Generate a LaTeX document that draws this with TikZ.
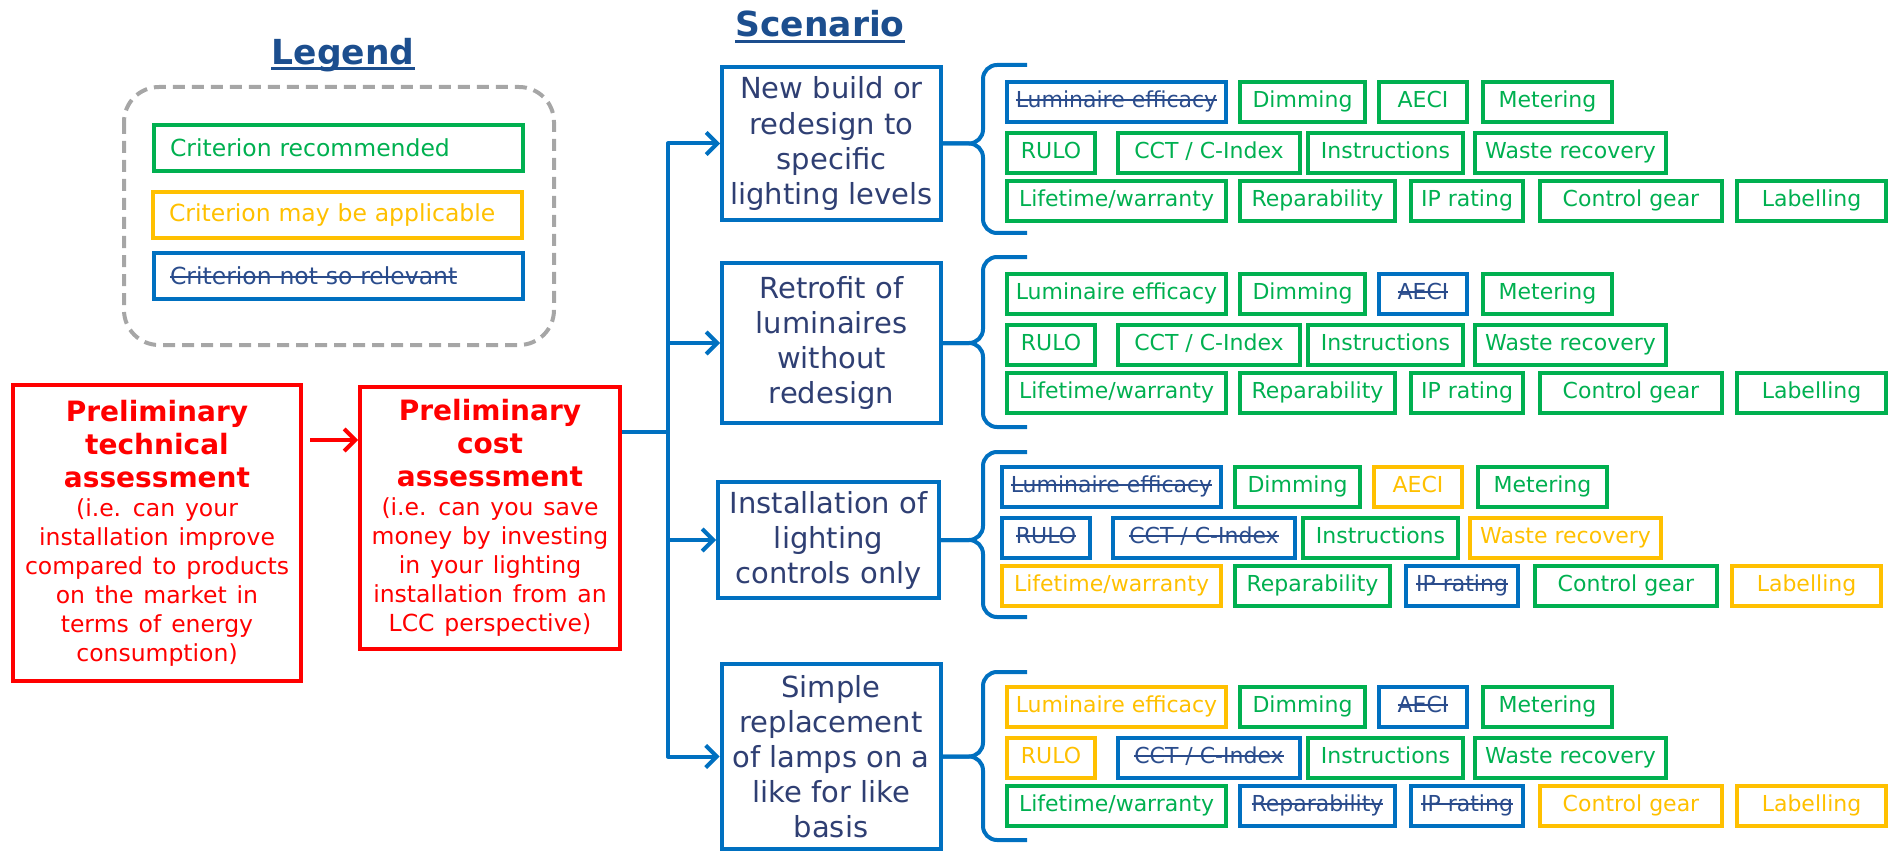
\documentclass[tikz,border=0pt]{standalone}
\usepackage{fontspec}
\setmainfont{DejaVu Sans}
\usetikzlibrary{arrows.meta,calc,positioning}

\definecolor{cgreen}{HTML}{00B050}
\definecolor{cyellow}{HTML}{FFC000}
\definecolor{cblue}{HTML}{0070C0}
\definecolor{cred}{HTML}{FF0000}
\definecolor{ctitle}{HTML}{1C4E8E}
\definecolor{cscen}{HTML}{2F3F73}
\definecolor{cstrike}{HTML}{2A4C8C}
\definecolor{cframe}{HTML}{A6A6A6}
\colorlet{colg}{cgreen}\colorlet{coly}{cyellow}\colorlet{colb}{cblue}
\colorlet{txtg}{cgreen}\colorlet{txty}{cyellow}\colorlet{txtb}{cstrike}

\newsavebox{\strikebox}
\newcommand{\markg}[1]{#1}
\newcommand{\marky}[1]{#1}
\newcommand{\markb}[1]{\sbox{\strikebox}{#1}\rlap{\rule[0.28em]{\wd\strikebox}{2pt}}\usebox{\strikebox}}

\begin{document}
\begin{tikzpicture}[x=1pt,y=-1pt,
  >={Straight Barb[length=11pt,width=22pt]},
  title/.style={anchor=base,inner sep=0pt,text=ctitle,font=\fontsize{34.5}{40}\selectfont\bfseries},
  titleline/.style={ctitle,line width=3pt},
  legframe/.style={cframe,line width=4pt,dash pattern=on 12pt off 7pt,rounded corners=35pt},
  legitem/.style={draw=#1,line width=4pt,minimum width=369pt,minimum height=46pt,text width=337pt,
    inner xsep=16pt,inner ysep=0pt,align=left,font=\fontsize{23.5}{28}\selectfont},
  redbox/.style={draw=cred,text=cred,line width=4pt,inner sep=0pt,align=center},
  scen/.style={draw=cblue,text=cscen,line width=4pt,inner sep=0pt,minimum width=219pt,
    align=center,font=\fontsize{29}{35}\selectfont},
  crit/.style={draw=col#1,text=txt#1,line width=4pt,inner sep=0pt,minimum height=40pt,
    text height=16pt,text depth=5pt,font=\fontsize{22}{26}\selectfont},
  conn/.style={cblue,line width=4pt,line join=round},
  brace/.style={cblue,line width=4pt,rounded corners=14pt}]
  \useasboundingbox (0,0) rectangle (1890,853);
  \def\redhead{\fontsize{28}{33}\selectfont\bfseries}
  \def\redbody{\fontsize{23.5}{29}\selectfont\mdseries\spaceskip=0.42em\relax}
  %
  % Legend
  \node[title] (legtitle) at (343,65) {Legend};
  \draw[titleline] ([yshift=-4pt]legtitle.base west) -- ([yshift=-4pt]legtitle.base east);
  \draw[legframe] (124,87) rectangle (554,345);
  \node[legitem=cgreen,text=cgreen] (leg1) at (338.5,148) {Criterion recommended};
  \node[legitem=cyellow,text=cyellow] (leg2) at (337.5,215) {Criterion may be applicable};
  \node[legitem=cblue,text=cstrike] (leg3) at (338.5,276) {\markb{Criterion not so relevant}};
  %
  % Assessments
  \node[redbox,font=\redbody,minimum width=288pt,minimum height=296pt,text width=284pt] (tech) at (157,533)
    {\redhead Preliminary\\technical\\assessment\par
     \redbody (i.e. can your\\installation improve\\compared to products\\on the market in\\terms of energy\\consumption)\par};
  \node[redbox,font=\redbody,minimum width=260pt,minimum height=262pt,text width=256pt] (cost) at (490,518)
    {\redhead Preliminary\\cost\\assessment\par
     \redbody (i.e. can you save\\money by investing\\in your lighting\\installation from an\\LCC perspective)\par};
  \coordinate (redy) at (0,440);
  \draw[cred,line width=4pt,->,shorten <=7pt] (tech.east |- redy) -- (cost.west |- redy);
  %
  % Scenarios
  \node[title] (scentitle) at (820,37) {Scenario};
  \draw[titleline] ([yshift=-5pt]scentitle.base west) -- ([yshift=-5pt]scentitle.base east);
  \node[scen,minimum height=153pt] (s1) at (831.5,143.5) {New build or\\redesign to\\specific\\lighting levels};
  \node[scen,minimum height=160pt] (s2) at (831.5,343) {Retrofit of\\luminaires\\without\\redesign};
  \node[scen,minimum height=116pt,minimum width=221pt] (s3) at (828.5,540) {Installation of\\lighting\\controls only};
  \node[scen,minimum height=185pt] (s4) at (831,756.5) {Simple\\replacement\\of lamps on a\\like for like\\basis};
  %
  % Connectors
  \coordinate (split) at (668,432);
  \draw[conn] (cost.east |- split) -- (split);
  \draw[conn,<->] (s1.west) -| (split) |- (s4.west);
  \foreach \s in {s2,s3}
    \draw[conn,->] (\s.west -| split) -- (\s.west);
  %
  % Braces
  \coordinate (bx) at (983,0);
  \coordinate (ex) at (1027,0);
  \foreach \s/\top/\bot in {s1/65/233,s2/257/427,s3/452/617,s4/672/840} {
    \draw[brace] ($(ex)+(0,\top)$) -- ($(bx)+(0,\top)$) -- (\s.east -| bx) -- (\s.east);
    \draw[brace] ($(ex)+(0,\bot)$) -- ($(bx)+(0,\bot)$) -- (\s.east -| bx) -- (\s.east);
  }
  %
  % Criteria (g = recommended, y = may be applicable, b = not so relevant)
  \foreach \rw/\xl/\xr/\txt/\ca/\cb/\cc/\cd [count=\i] in {
      102/1005/1228/Luminaire efficacy/b/g/b/y,
      102/1238/1367/Dimming/g/g/g/g,
      102/1377/1469/AECI/g/b/y/b,
      102/1481/1614/Metering/g/g/g/g,
      153/1005/1097/RULO/g/g/b/y,
      153/1116/1302/{CCT / C-Index}/g/g/b/b,
      153/1306/1465/Instructions/g/g/g/g,
      153/1473/1668/Waste recovery/g/g/y/g,
      201/1005/1228/{Lifetime/warranty}/g/g/y/g,
      201/1238/1397/Reparability/g/g/g/b,
      201/1409/1525/IP rating/g/g/b/b,
      201/1538/1724/Control gear/g/g/g/y,
      201/1735/1888/Labelling/g/g/y/y} {
    \foreach \g/\c/\dy/\dx in {1/\ca/0/0,2/\cb/192/0,3/\cc/385/-5,4/\cd/605/0}
      \node[crit=\c,minimum width={\xr-\xl-4}] (c\g-\i) at ({(\xl+\xr)/2+\dx},{\rw+\dy})
        {\csname mark\c\endcsname{\txt}};
  }
  %
\end{tikzpicture}
\end{document}
